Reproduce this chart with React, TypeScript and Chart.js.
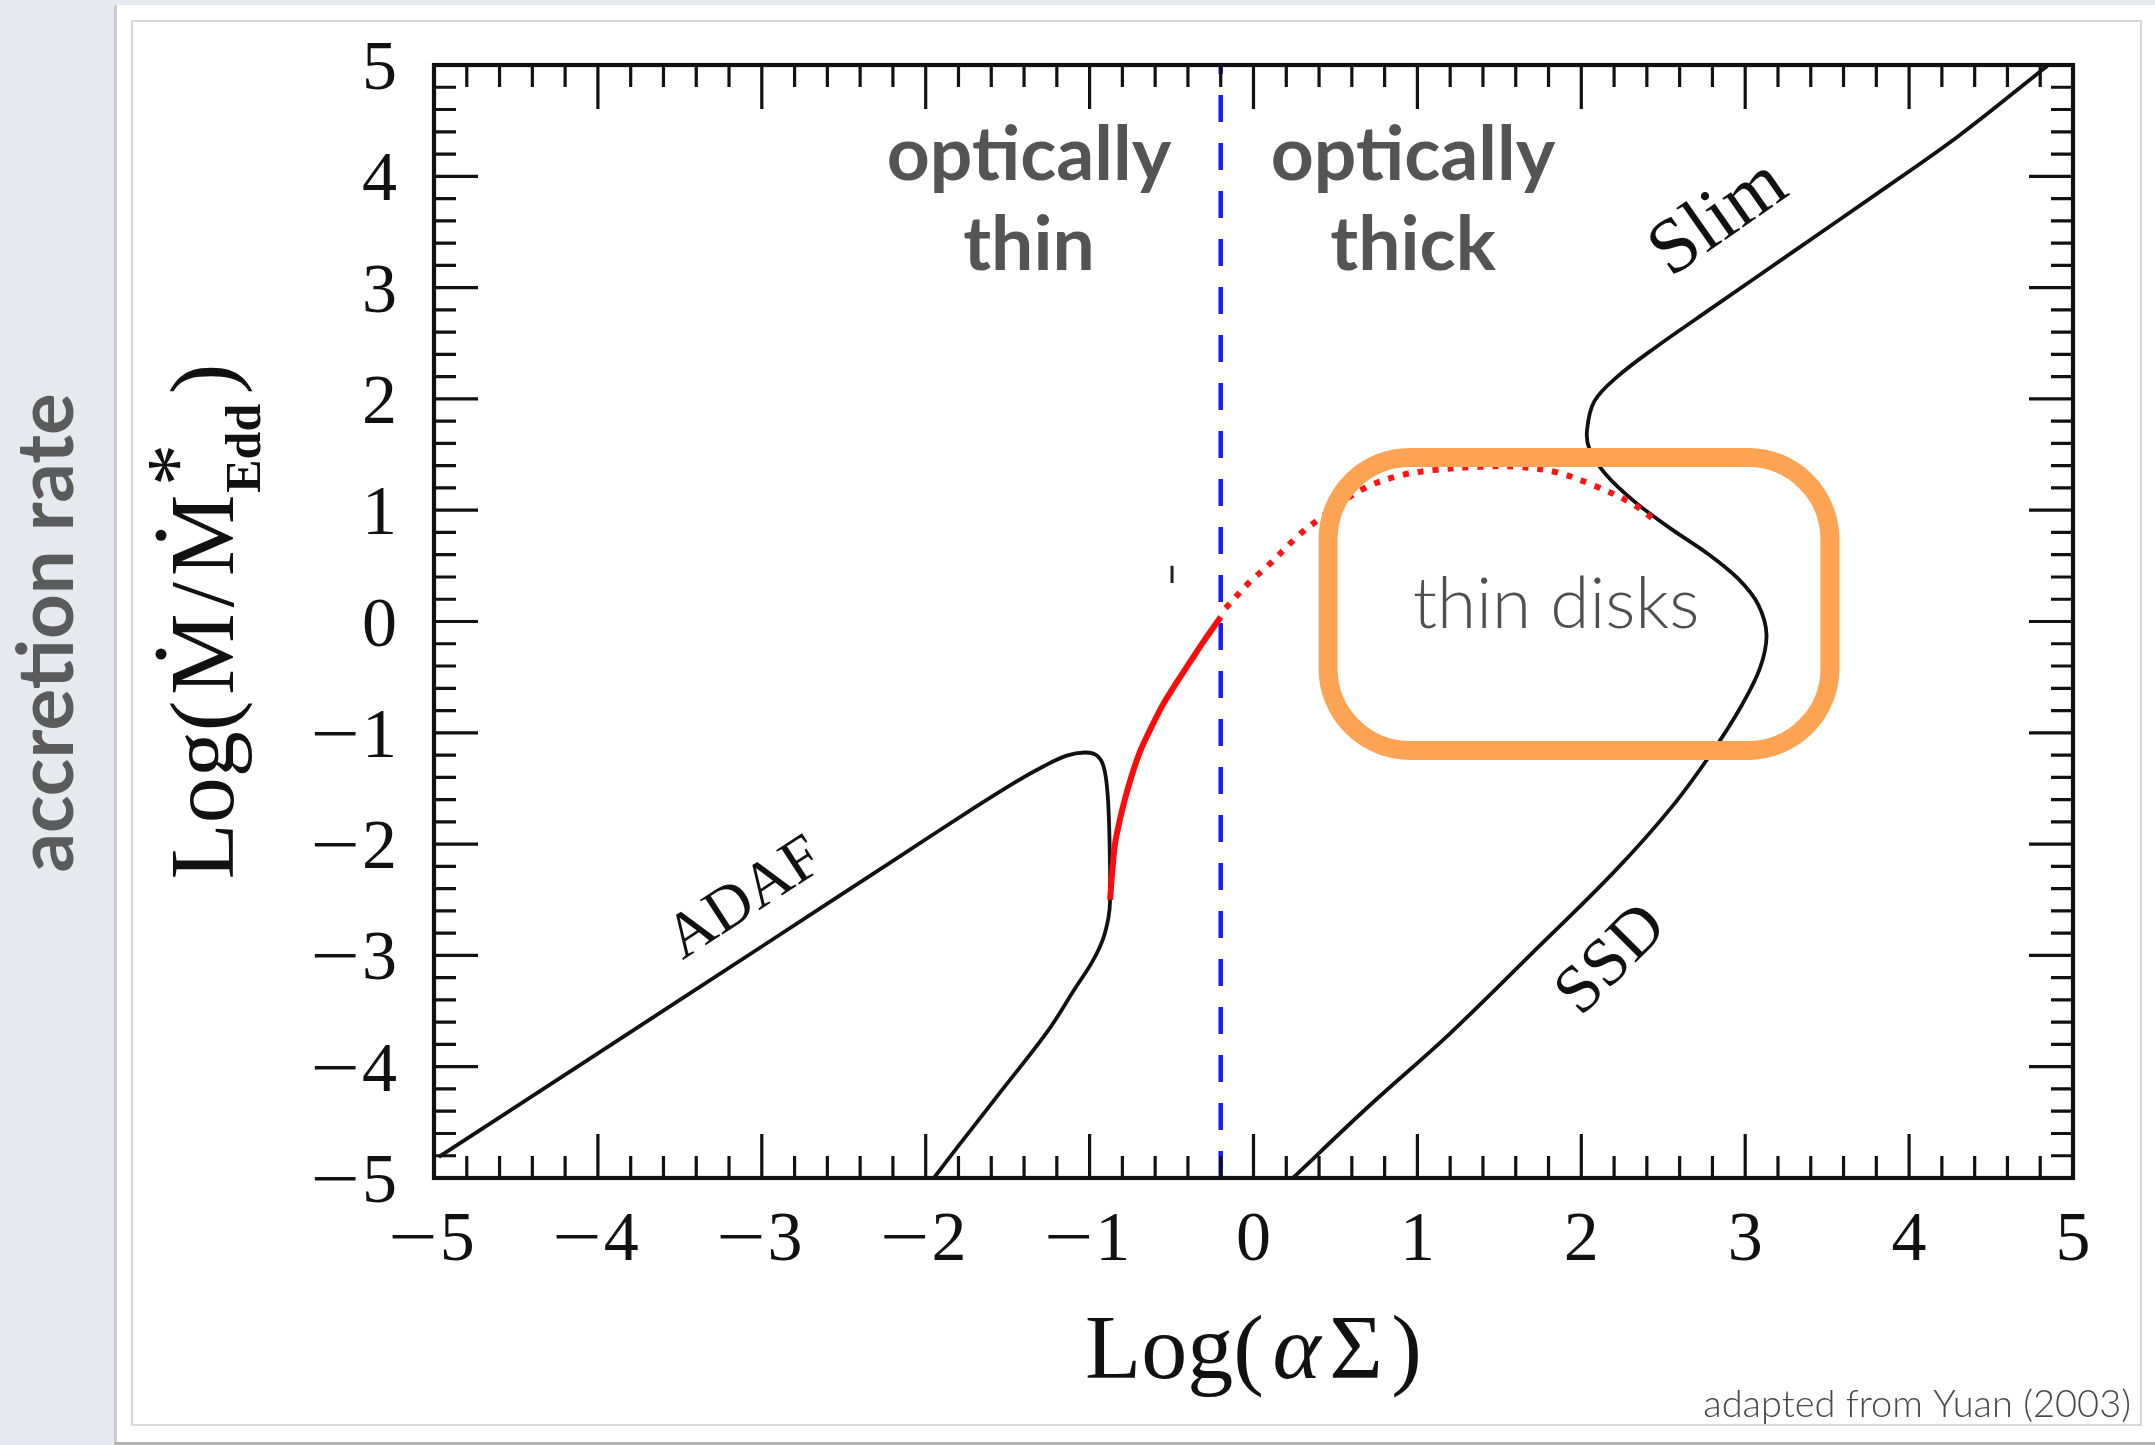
import { useEffect, useRef } from 'react';
import { Chart, registerables } from 'chart.js';

Chart.register(...registerables);

const WIDTH = 2155;
const HEIGHT = 1445;

const SERIF = '"Liberation Serif", "Times New Roman", serif';
const SANS = 'Lato, "Open Sans", sans-serif';

// Axis ranges and ticks
const X_RANGE = [-5, 5];
const Y_RANGE = [-5, 5];
const X_TICKS = [-5, -4, -3, -2, -1, 0, 1, 2, 3, 4, 5];
const X_TICK_LABELS = ['−5', '−4', '−3', '−2', '−1', '0', '1', '2', '3', '4', '5'];
const Y_TICKS = [-5, -4, -3, -2, -1, 0, 1, 2, 3, 4, 5];
const Y_TICK_LABELS = ['−5', '−4', '−3', '−2', '−1', '0', '1', '2', '3', '4', '5'];
const MINOR_DIVISIONS = 5;

// ADAF branch: upper branch, turning point, and the lower branch back to the axis
const ADAF_X = [-4.97, -4.0, -3.0, -2.2, -1.7, -1.45, -1.28, -1.14, -1.03, -0.96, -0.915, -0.89, -0.878, -0.875, -0.885, -0.92, -0.985, -1.09, -1.26, -1.54, -1.81, -1.95];
const ADAF_Y = [-4.81, -3.88, -2.92, -2.15, -1.67, -1.44, -1.3, -1.205, -1.177, -1.2, -1.3, -1.55, -2.0, -2.5, -2.66, -2.86, -3.06, -3.3, -3.69, -4.22, -4.73, -5.0];

// SSD / Slim S-curve
const SSD_SLIM_X = [0.24, 0.7, 1.2, 1.7, 2.2, 2.55, 2.8, 2.98, 3.09, 3.13, 3.08, 2.96, 2.78, 2.55, 2.33, 2.15, 2.05, 2.035, 2.08, 2.22, 2.45, 2.8, 3.3, 3.8, 4.3, 4.85];
const SSD_SLIM_Y = [-5.0, -4.36, -3.7, -2.98, -2.25, -1.67, -1.17, -0.75, -0.42, -0.12, 0.15, 0.38, 0.6, 0.83, 1.07, 1.32, 1.55, 1.72, 1.98, 2.2, 2.46, 2.82, 3.33, 3.84, 4.36, 5.0];

// Optically thin transition (solid) and its continuation (dotted)
const THIN_SOLID_X = [-0.875, -0.862, -0.845, -0.815, -0.785, -0.74, -0.69, -0.62, -0.55, -0.47, -0.39, -0.3, -0.2];
const THIN_SOLID_Y = [-2.5, -2.25, -2.0, -1.78, -1.6, -1.37, -1.16, -0.94, -0.74, -0.55, -0.37, -0.17, 0.04];
const THIN_DOTTED_X = [-0.17, -0.02, 0.08, 0.28, 0.4, 0.49, 0.68, 0.89, 1.1, 1.38, 1.61, 1.85, 2.08, 2.31, 2.45];
const THIN_DOTTED_Y = [0.12, 0.36, 0.49, 0.78, 0.92, 1.02, 1.2, 1.31, 1.36, 1.39, 1.39, 1.34, 1.22, 1.06, 0.91];

// Optical depth divider
const DIVIDER_X = [-0.2, -0.2];
const DIVIDER_Y = [-5, 5];

// Short stray stroke in the original figure
const STRAY_X = [-0.497, -0.497];
const STRAY_Y = [0.5, 0.345];

// Thin-disk region box (data units)
const BOX_X = [0.455, 3.517];
const BOX_Y = [-1.158, 1.474];

// Curve labels: [text, x, y, angle in degrees, font size]
const CURVE_LABELS: [string, number, number, number, number][] = [
  ['ADAF', -3.12, -2.47, -33, 63],
  ['Slim', 2.83, 3.67, -35, 78],
  ['SSD', 2.175, -3.015, -45, 68],
];

const pts = (xs: number[], ys: number[]) => xs.map((x, i) => ({ x, y: ys[i] }));

// fills text so that its ink box is centred on (x, y)
function centeredText(ctx: CanvasRenderingContext2D, text: string, x: number, y: number) {
  const m = ctx.measureText(text);
  const cx = (m.actualBoundingBoxRight - m.actualBoundingBoxLeft) / 2;
  const cy = (m.actualBoundingBoxDescent - m.actualBoundingBoxAscent) / 2;
  const prev = ctx.textAlign;
  ctx.textAlign = 'left';
  ctx.fillText(text, x - cx, y - cy);
  ctx.textAlign = prev;
}

// draws a tick label with a roomier minus sign
function tickLabel(ctx: CanvasRenderingContext2D, label: string, x: number, y: number, align: 'center' | 'right') {
  const neg = label.startsWith('−');
  const body = neg ? label.slice(1) : label;
  const wMinus = neg ? ctx.measureText('−').width : 0;
  const gap = neg ? 7 : 0;
  const wBody = ctx.measureText(body).width;
  const total = wMinus + gap + wBody;
  const x0 = align === 'center' ? x - total / 2 : x - total;
  const prev = ctx.textAlign;
  ctx.textAlign = 'left';
  if (neg) {
    ctx.save();
    ctx.translate(x0, y);
    ctx.scale(1.25, 1);
    ctx.fillText('−', -wMinus * 0.1, 0);
    ctx.restore();
  }
  ctx.fillText(body, x0 + wMinus + gap, y);
  ctx.textAlign = prev;
}

const backgroundPlugin = {
  id: 'slideBackground',
  beforeDraw(chart: Chart) {
    const ctx = chart.ctx;
    ctx.save();
    ctx.fillStyle = '#e6e9ed';
    ctx.fillRect(0, 0, WIDTH, HEIGHT);
    ctx.fillStyle = '#ffffff';
    ctx.fillRect(116, 5, WIDTH - 116, 1437);
    ctx.fillStyle = '#c8cbcf';
    ctx.fillRect(114, 5, 3, 1437);
    ctx.fillStyle = '#b3b3b3';
    ctx.fillRect(114, 1442, WIDTH - 114, 3);
    ctx.strokeStyle = '#d8d8d8';
    ctx.lineWidth = 2;
    ctx.strokeRect(132, 21, 2141 - 132, 1425 - 21);

    // slide side caption
    ctx.fillStyle = '#5b5b5b';
    ctx.font = `bold 78px ${SANS}`;
    ctx.translate(73, 633);
    ctx.rotate(-Math.PI / 2);
    ctx.textAlign = 'center';
    ctx.textBaseline = 'alphabetic';
    ctx.fillText('accretion rate', 0, 0);
    ctx.restore();
  },
};

const framePlugin = {
  id: 'frameAndTicks',
  afterDatasetsDraw(chart: Chart) {
    const ctx = chart.ctx;
    const xs = chart.scales.x;
    const ys = chart.scales.y;
    const { left, right, top, bottom } = chart.chartArea;
    const MAJOR = 44;
    const MINOR = 22;
    ctx.save();
    ctx.strokeStyle = '#111111';
    ctx.lineCap = 'butt';

    ctx.lineWidth = 3.2;
    ctx.beginPath();
    X_TICKS.forEach((t, i) => {
      const px = xs.getPixelForValue(t);
      ctx.moveTo(px, bottom); ctx.lineTo(px, bottom - MAJOR);
      ctx.moveTo(px, top); ctx.lineTo(px, top + MAJOR);
      if (i < X_TICKS.length - 1) {
        const step = (X_TICKS[i + 1] - t) / MINOR_DIVISIONS;
        for (let k = 1; k < MINOR_DIVISIONS; k++) {
          const mx = xs.getPixelForValue(t + k * step);
          ctx.moveTo(mx, bottom); ctx.lineTo(mx, bottom - MINOR);
          ctx.moveTo(mx, top); ctx.lineTo(mx, top + MINOR);
        }
      }
    });
    Y_TICKS.forEach((t, i) => {
      const py = ys.getPixelForValue(t);
      ctx.moveTo(left, py); ctx.lineTo(left + MAJOR, py);
      ctx.moveTo(right, py); ctx.lineTo(right - MAJOR, py);
      if (i < Y_TICKS.length - 1) {
        const step = (Y_TICKS[i + 1] - t) / MINOR_DIVISIONS;
        for (let k = 1; k < MINOR_DIVISIONS; k++) {
          const my = ys.getPixelForValue(t + k * step);
          ctx.moveTo(left, my); ctx.lineTo(left + MINOR, my);
          ctx.moveTo(right, my); ctx.lineTo(right - MINOR, my);
        }
      }
    });
    ctx.stroke();

    ctx.lineWidth = 4.2;
    ctx.strokeRect(left, top, right - left, bottom - top);

    // tick labels
    ctx.fillStyle = '#111111';
    ctx.font = `70px ${SERIF}`;
    ctx.textBaseline = 'alphabetic';
    X_TICKS.forEach((t, i) => {
      tickLabel(ctx, X_TICK_LABELS[i], xs.getPixelForValue(t), bottom + 82, 'center');
    });
    Y_TICKS.forEach((t, i) => {
      tickLabel(ctx, Y_TICK_LABELS[i], left - 37, ys.getPixelForValue(t) + 24, 'right');
    });

    // x-axis title: Log(αΣ)
    {
      const main = `92px ${SERIF}`;
      const ital = `italic 92px ${SERIF}`;
      const parts: [string, string][] = [['Log(', main], ['α', ital], ['Σ', main], [')', main]];
      const widths = parts.map(([t, f]) => { ctx.font = f; return ctx.measureText(t).width; });
      const target = 337;
      const natural = widths.reduce((a, b) => a + b, 0);
      const gap = Math.max(0, (target - natural) / (parts.length - 1));
      let x = (left + right) / 2 - target / 2;
      ctx.textAlign = 'left';
      parts.forEach(([t, f], i) => {
        ctx.font = f;
        ctx.fillText(t, x, 1378);
        x += widths[i] + gap;
      });
    }

    // y-axis title: Log(Ṁ/Ṁ*Edd), reading bottom to top
    {
      const main = `92px ${SERIF}`;
      const sub = `bold 50px ${SERIF}`;
      const star = `84px ${SERIF}`;
      const midY = (top + bottom) / 2;
      ctx.save();
      ctx.translate(233, midY);
      ctx.rotate(-Math.PI / 2);
      ctx.textAlign = 'left';
      ctx.textBaseline = 'alphabetic';
      ctx.font = main;
      const wLog = ctx.measureText('Log(').width;
      const wM = ctx.measureText('M').width;
      const wSl = ctx.measureText('/').width;
      const wP = ctx.measureText(')').width;
      const capH = ctx.measureText('M').actualBoundingBoxAscent;
      ctx.font = sub;
      const wSub = ctx.measureText('Edd').width;
      const target = 516;
      const natural = wLog + wM + wSl + wM + wSub + wP;
      const gap = Math.max(0, (target - natural) / 5);
      let u = -target / 2;
      const dot = (cx: number) => {
        ctx.beginPath();
        ctx.arc(cx, -capH - 12, 5.5, 0, Math.PI * 2);
        ctx.fill();
      };
      ctx.font = main;
      ctx.fillText('Log(', u, 0); u += wLog + gap;
      ctx.fillText('M', u, 0); dot(u + wM / 2); u += wM + gap;
      ctx.fillText('/', u, 0); u += wSl + gap;
      ctx.fillText('M', u, 0); dot(u + wM / 2); u += wM + gap * 0.3;
      ctx.font = sub;
      ctx.fillText('Edd', u, 27);
      u += wSub + gap * 1.7;
      ctx.font = main;
      ctx.fillText(')', u, 0);
      // superscript star sits above the start of the subscript
      ctx.font = star;
      centeredText(ctx, '*', midY - 465, -68);
      ctx.restore();
    }

    // curve labels
    CURVE_LABELS.forEach(([text, dx, dy, ang, size]) => {
      ctx.save();
      ctx.translate(xs.getPixelForValue(dx), ys.getPixelForValue(dy));
      ctx.rotate((ang * Math.PI) / 180);
      ctx.font = `${size}px ${SERIF}`;
      centeredText(ctx, text, 0, 0);
      ctx.restore();
    });

    // region labels
    ctx.fillStyle = '#545454';
    ctx.font = `bold 75px ${SANS}`;
    ctx.textAlign = 'center';
    ctx.fillText('optically', xs.getPixelForValue(-1.37), ys.getPixelForValue(3.963));
    ctx.fillText('thin', xs.getPixelForValue(-1.37), ys.getPixelForValue(3.155));
    ctx.fillText('optically', xs.getPixelForValue(0.973), ys.getPixelForValue(3.963));
    ctx.fillText('thick', xs.getPixelForValue(0.973), ys.getPixelForValue(3.155));

    // thin disk region box
    const bx0 = xs.getPixelForValue(BOX_X[0]);
    const bx1 = xs.getPixelForValue(BOX_X[1]);
    const by0 = ys.getPixelForValue(BOX_Y[1]);
    const by1 = ys.getPixelForValue(BOX_Y[0]);
    const r = 82;
    ctx.strokeStyle = '#fda354';
    ctx.lineWidth = 19;
    ctx.beginPath();
    ctx.moveTo(bx0 + r, by0);
    ctx.lineTo(bx1 - r, by0);
    ctx.arcTo(bx1, by0, bx1, by0 + r, r);
    ctx.lineTo(bx1, by1 - r);
    ctx.arcTo(bx1, by1, bx1 - r, by1, r);
    ctx.lineTo(bx0 + r, by1);
    ctx.arcTo(bx0, by1, bx0, by1 - r, r);
    ctx.lineTo(bx0, by0 + r);
    ctx.arcTo(bx0, by0, bx0 + r, by0, r);
    ctx.closePath();
    ctx.stroke();

    ctx.fillStyle = '#505050';
    ctx.font = `300 71px ${SANS}`;
    ctx.textAlign = 'center';
    ctx.fillText('thin disks', xs.getPixelForValue(1.846), ys.getPixelForValue(-0.06));

    // source credit
    ctx.font = `300 38px ${SANS}`;
    ctx.textAlign = 'right';
    ctx.fillStyle = '#484848';
    ctx.fillText('adapted from Yuan (2003)', 2131, 1417);
    ctx.restore();
  },
};

export default function App() {
  const canvasRef = useRef<HTMLCanvasElement>(null);

  useEffect(() => {
    const canvas = canvasRef.current;
    if (!canvas) return;
    const lineDefaults = { showLine: true, pointRadius: 0, pointHoverRadius: 0, fill: false };
    const chart = new Chart(canvas, {
      type: 'scatter',
      data: {
        datasets: [
          {
            ...lineDefaults,
            label: 'optically thin transition',
            data: pts(THIN_SOLID_X, THIN_SOLID_Y),
            borderColor: '#ff0a0a',
            borderWidth: 6,
            tension: 0.35,
          },
          {
            ...lineDefaults,
            label: 'optically thin continuation',
            data: pts(THIN_DOTTED_X, THIN_DOTTED_Y),
            borderColor: '#ff1414',
            borderWidth: 6,
            borderDash: [6, 9],
            tension: 0.35,
          },
          {
            ...lineDefaults,
            label: 'optical depth unity',
            data: pts(DIVIDER_X, DIVIDER_Y),
            borderColor: '#1a1aff',
            borderWidth: 4.5,
            borderDash: [27, 21],
            tension: 0,
          },
          {
            ...lineDefaults,
            label: 'ADAF',
            data: pts(ADAF_X, ADAF_Y),
            borderColor: '#111111',
            borderWidth: 3.8,
            tension: 0.35,
          },
          {
            ...lineDefaults,
            label: 'SSD / Slim',
            data: pts(SSD_SLIM_X, SSD_SLIM_Y),
            borderColor: '#111111',
            borderWidth: 3.8,
            tension: 0.35,
          },
          {
            ...lineDefaults,
            label: 'stray stroke',
            data: pts(STRAY_X, STRAY_Y),
            borderColor: '#222222',
            borderWidth: 3,
            tension: 0,
          },
        ],
      },
      options: {
        responsive: false,
        devicePixelRatio: 1,
        animation: false,
        events: [],
        layout: { padding: { left: 434, top: 65, right: WIDTH - 2073, bottom: HEIGHT - 1178 } },
        scales: {
          x: { type: 'linear', min: X_RANGE[0], max: X_RANGE[1], display: false },
          y: { type: 'linear', min: Y_RANGE[0], max: Y_RANGE[1], display: false },
        },
        plugins: { legend: { display: false }, tooltip: { enabled: false } },
      },
      plugins: [backgroundPlugin, framePlugin],
    });
    return () => chart.destroy();
  }, []);

  return (
    <div style={{ position: 'fixed', left: 0, top: 0, width: WIDTH, height: HEIGHT }}>
      <canvas ref={canvasRef} width={WIDTH} height={HEIGHT} style={{ display: 'block' }} />
    </div>
  );
}
